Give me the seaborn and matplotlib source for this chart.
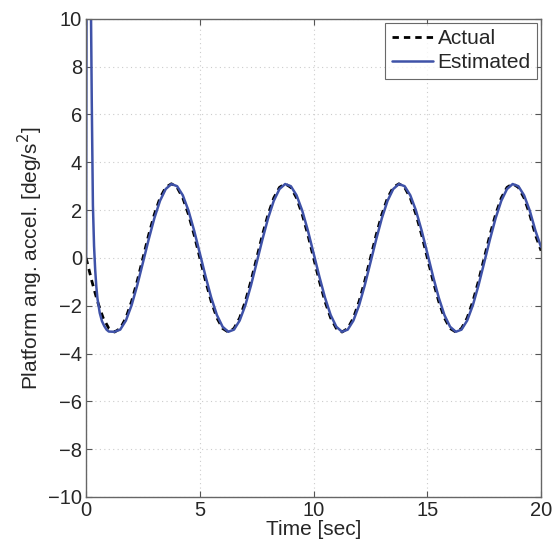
import numpy as np
import pandas as pd
import matplotlib
matplotlib.use("Agg")
import matplotlib.pyplot as plt
import seaborn as sns

# Actual platform angular acceleration, read every 0.25 s from 0 to 20 s
time_actual = np.arange(0, 20.001, 0.25)
accel_actual = [
    0.00, -0.96, -1.82, -2.51, -2.95, -3.10, -2.95, -2.51, -1.82, -0.96,
    0.00, 0.96, 1.82, 2.51, 2.95, 3.10, 2.95, 2.51, 1.82, 0.96,
    0.00, -0.96, -1.82, -2.51, -2.95, -3.10, -2.95, -2.51, -1.82, -0.96,
    0.00, 0.96, 1.82, 2.51, 2.95, 3.10, 2.95, 2.51, 1.82, 0.96,
    0.00, -0.96, -1.82, -2.51, -2.95, -3.10, -2.95, -2.51, -1.82, -0.96,
    0.00, 0.96, 1.82, 2.51, 2.95, 3.10, 2.95, 2.51, 1.82, 0.96,
    0.00, -0.96, -1.82, -2.51, -2.95, -3.10, -2.95, -2.51, -1.82, -0.96,
    0.00, 0.96, 1.82, 2.51, 2.95, 3.10, 2.95, 2.51, 1.82, 0.96,
    0.30,
]

# Estimated: fast initial transient (goes off the top), then tracks the actual
time_est_start = [0.0, 0.02, 0.05, 0.10, 0.15, 0.20, 0.25, 0.30, 0.35, 0.40,
                  0.45, 0.50, 0.60, 0.70, 0.80, 0.90, 1.00]
accel_est_start = [0.0, 11.0, 18.0, 19.0, 16.0, 12.0, 6.5, 2.2, 0.5, -0.5,
                   -1.2, -1.7, -2.3, -2.65, -2.85, -3.00, -3.08]
time_est_rest = np.arange(1.25, 20.001, 0.25)
accel_est_rest = [
    -3.09, -3.00, -2.62, -1.98, -1.14, -0.19, 0.77, 1.66, 2.39, 2.88,
    3.09, 3.00, 2.62, 1.98, 1.14, 0.19, -0.77, -1.66, -2.39, -2.88,
    -3.09, -3.00, -2.62, -1.98, -1.14, -0.19, 0.77, 1.66, 2.39, 2.88,
    3.09, 3.00, 2.62, 1.98, 1.14, 0.19, -0.77, -1.66, -2.39, -2.88,
    -3.09, -3.00, -2.62, -1.98, -1.14, -0.19, 0.77, 1.66, 2.39, 2.88,
    3.09, 3.00, 2.62, 1.98, 1.14, 0.19, -0.77, -1.66, -2.39, -2.88,
    -3.09, -3.00, -2.62, -1.98, -1.14, -0.19, 0.77, 1.66, 2.39, 2.88,
    3.09, 3.00, 2.62, 1.98, 1.14, 0.45,
]

x_ticks = [0, 5, 10, 15, 20]
y_ticks = [-10, -8, -6, -4, -2, 0, 2, 4, 6, 8, 10]

df_actual = pd.DataFrame({"t": time_actual, "a": accel_actual})
df_est = pd.DataFrame({
    "t": np.concatenate([time_est_start, time_est_rest]),
    "a": np.concatenate([accel_est_start, accel_est_rest]),
})

sns.set_theme(style="white")
plt.rcParams["font.family"] = ["Liberation Sans", "DejaVu Sans"]

fig = plt.figure(figsize=(5.59, 5.44), dpi=100)
ax = fig.add_axes([0.154, 0.0864, 0.814, 0.879])

sns.lineplot(data=df_actual, x="t", y="a", ax=ax, color="black",
             linestyle=(0, (2.3, 1.8)), linewidth=2.0, label="Actual",
             sort=False, estimator=None)
sns.lineplot(data=df_est, x="t", y="a", ax=ax, color="#3f52a8",
             linewidth=1.8, label="Estimated", sort=False, estimator=None)

ax.set_xlim(0, 20)
ax.set_ylim(-10, 10)
ax.set_xticks(x_ticks)
ax.set_yticks(y_ticks)
ax.set_yticklabels([str(v).replace("-", "\u2212") for v in y_ticks])
ax.tick_params(direction="in", length=4, width=0.8, color="#555555",
               labelsize=14.5, pad=3, top=True, right=True,
               bottom=True, left=True)
ax.grid(True, linestyle=(0, (1, 3)), color="#cccccc", linewidth=0.8)

for s in ax.spines.values():
    s.set_color("#666666")
    s.set_linewidth(1.0)

ax.set_xlabel("Time [sec]", fontsize=15, labelpad=0)
ax.set_ylabel("Platform ang. accel. [deg/s$^2$]", fontsize=15, labelpad=2)

leg = ax.legend(loc="upper right", fontsize=15, frameon=True, fancybox=False,
                borderpad=0.3, handlelength=2.0, handletextpad=0.2,
                labelspacing=0.25, borderaxespad=0.2)
leg.get_frame().set_edgecolor("#444444")
leg.get_frame().set_linewidth(0.8)

fig.savefig("out.png", dpi=100)
plt.close(fig)
